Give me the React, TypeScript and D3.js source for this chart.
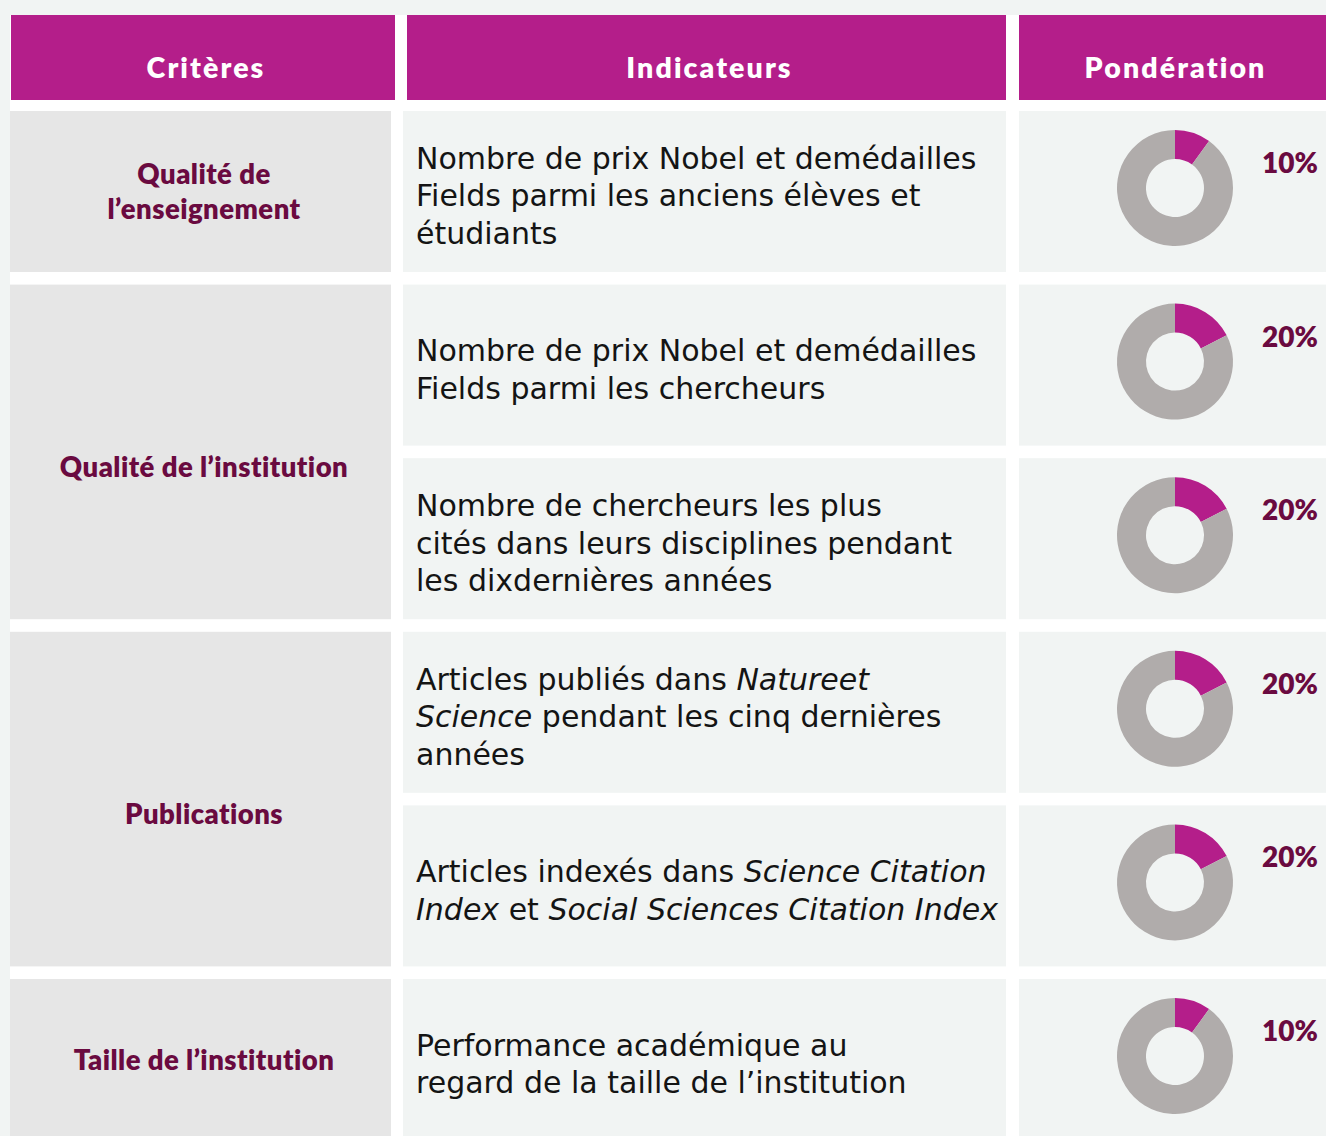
import React from 'react';
import * as d3 from 'd3';

const headers = ['Critères', 'Indicateurs', 'Pondération'];

const criteria = [
  ['Qualité de', 'l’enseignement'],
  ['Qualité de l’institution'],
  ['Publications'],
  ['Taille de l’institution'],
];
const criteriaSpan = [1, 2, 2, 1];

// segments between *...* are set in italics
const indicators = [
  ['Nombre de prix Nobel et demédailles', 'Fields parmi les anciens élèves et', 'étudiants'],
  ['Nombre de prix Nobel et demédailles', 'Fields parmi les chercheurs'],
  ['Nombre de chercheurs les plus', 'cités dans leurs disciplines pendant', 'les dixdernières années'],
  ['Articles publiés dans *Natureet*', '*Science* pendant les cinq dernières', 'années'],
  ['Articles indexés dans *Science Citation*', '*Index* et *Social Sciences Citation Index*'],
  ['Performance académique au', 'regard de la taille de l’institution'],
];

const weights = [10, 20, 20, 20, 20, 10];
// coloured share as actually drawn in the rings (the 20 % rings are drawn smaller)
const drawnShare = [10, 17.5, 17.5, 17.5, 17.5, 10];

const W = 1326;
const H = 1136;
const MAGENTA = '#b41e8a';
const DARK = '#6a0a40';
const PAGE = '#f1f4f3';
const GREY_CELL = '#e6e6e6';
const RING = '#b0acab';
const BOLD_FONT = 'Lato, "DejaVu Sans", sans-serif';
const BODY_FONT = '"DejaVu Sans", sans-serif';

const headCols = [
  { x0: 11, x1: 395 },
  { x0: 407, x1: 1006 },
  { x0: 1019, x1: 1326 },
];
const bodyCols = [
  { x0: 10, x1: 391 },
  { x0: 403, x1: 1006 },
  { x0: 1019, x1: 1326 },
];

const splitItalic = (line: string) =>
  line.split('*').map((t, i) => ({ t, it: i % 2 === 1 })).filter(s => s.t.length > 0);

export default function App() {
  const rows = d3.range(indicators.length);
  const y = d3.scaleBand<number>().domain(rows).range([111, 1140]).paddingInner(0.0726);
  const bw = y.bandwidth();

  const pie = d3.pie<number>().sort(null).value(d => d);
  const arc = d3.arc<d3.PieArcDatum<number>>().innerRadius(29).outerRadius(58);

  const starts = criteriaSpan.map((_, i) => d3.sum(criteriaSpan.slice(0, i)));
  const lh = 37.8;

  return (
    <svg width={W} height={H} style={{ position: 'absolute', left: 0, top: 0 }}>
      <rect width={W} height={H} fill={PAGE} />
      <rect x={10} y={15} width={W - 10} height={H - 15} fill="#ffffff" />

      {headers.map((h, i) => (
        <g key={h}>
          <rect x={headCols[i].x0} y={15} width={headCols[i].x1 - headCols[i].x0} height={85} fill={MAGENTA} />
          <text
            x={(headCols[i].x0 + headCols[i].x1) / 2 + 3}
            y={78}
            textAnchor="middle"
            fill="#ffffff"
            fontFamily={BOLD_FONT}
            fontWeight={800}
            fontSize={28.5}
            letterSpacing={2.1}
          >
            {h}
          </text>
        </g>
      ))}

      {criteria.map((lines, i) => {
        const top = y(starts[i])!;
        const bottom = y(starts[i] + criteriaSpan[i] - 1)! + bw;
        const cy = (top + bottom) / 2 + (criteriaSpan[i] > 1 ? 15 : 0);
        const first = cy - ((lines.length - 1) * 34.5) / 2 + 10;
        return (
          <g key={i}>
            <rect x={bodyCols[0].x0} y={top} width={bodyCols[0].x1 - bodyCols[0].x0} height={bottom - top} fill={GREY_CELL} />
            <text
              textAnchor="middle"
              fill={DARK}
              fontFamily={BOLD_FONT}
              fontWeight={800}
              fontSize={27.5}
              letterSpacing={0.45}
            >
              {lines.map((l, j) => (
                <tspan key={j} x={204} y={first + j * 34.5}>{l}</tspan>
              ))}
            </text>
          </g>
        );
      })}

      {indicators.map((lines, i) => {
        const top = y(i)!;
        const cy = top + bw / 2;
        const first = cy - ((lines.length - 1) * lh) / 2 + 15;
        const ringY = cy - 3.5;
        const arcs = pie([drawnShare[i], 100 - drawnShare[i]]);
        return (
          <g key={i}>
            <rect x={bodyCols[1].x0} y={top} width={bodyCols[1].x1 - bodyCols[1].x0} height={bw} fill={PAGE} />
            <rect x={bodyCols[2].x0} y={top} width={bodyCols[2].x1 - bodyCols[2].x0} height={bw} fill={PAGE} />
            <text fill="#141414" fontFamily={BODY_FONT} fontSize={30}>
              {lines.map((l, j) => (
                <tspan key={j} x={416} y={first + j * lh}>
                  {splitItalic(l).map((s, k) => (
                    <tspan key={k} fontStyle={s.it ? 'italic' : 'normal'}>{s.t}</tspan>
                  ))}
                </tspan>
              ))}
            </text>
            <g transform={`translate(1175,${ringY})`}>
              {arcs.map((a, k) => (
                <path key={k} d={arc(a) || ''} fill={k === 0 ? MAGENTA : RING} />
              ))}
            </g>
            <text
              x={1318}
              y={ringY - 15}
              textAnchor="end"
              fill={DARK}
              fontFamily={BOLD_FONT}
              fontWeight={800}
              fontSize={28}
            >
              {`${weights[i]}%`}
            </text>
          </g>
        );
      })}
    </svg>
  );
}
